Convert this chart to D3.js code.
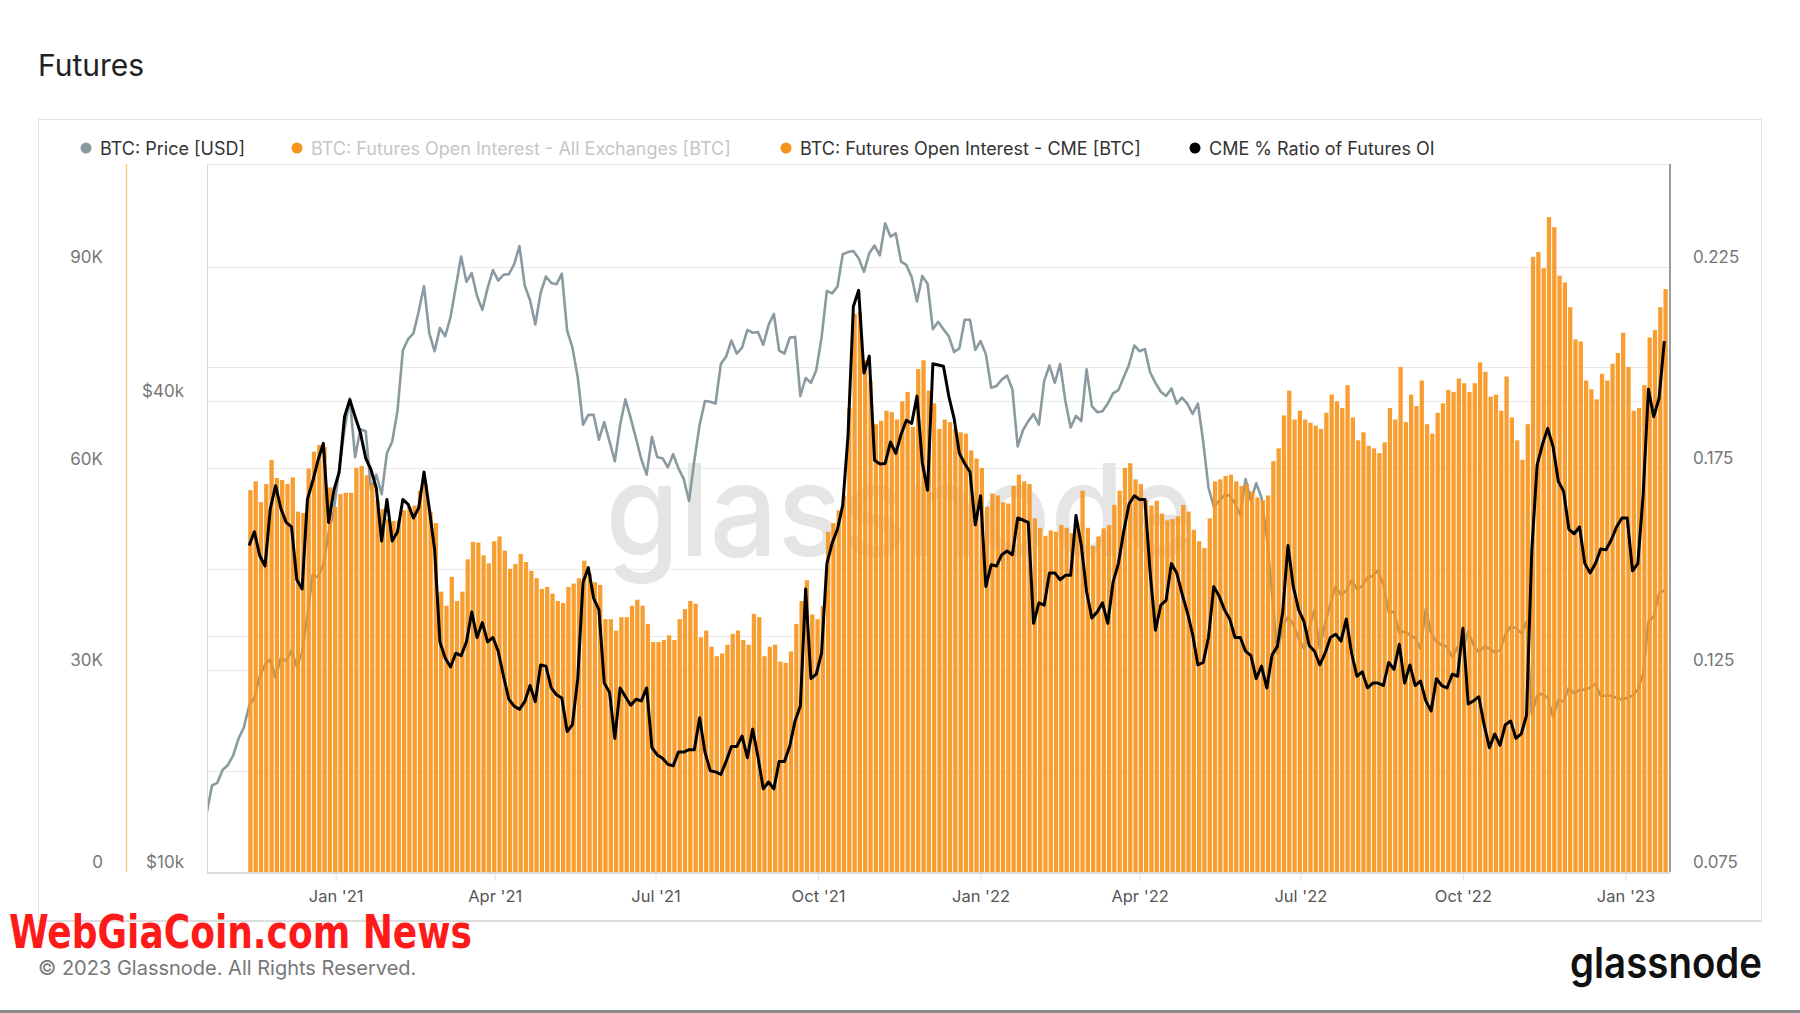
<!DOCTYPE html>
<html>
<head>
<meta charset="utf-8">
<title>Futures</title>
<script src="https://cdnjs.cloudflare.com/ajax/libs/d3/7.8.5/d3.min.js"></script>
<style>
    html, body { margin: 0; padding: 0; background: #fff; }
    #chart-area { width: 1800px; height: 1013px; }
    text { font-family: Inter, "Noto Sans", sans-serif; }
    .axis path.domain { display: none; }
    .y-label text { fill: #777; font-size: 17px; }
    .x-axis text { fill: #555; font-size: 16.5px; }
    .x-axis line { stroke: #e3e3e3; }
    .grid line { stroke: #e9e9e9; stroke-width: 1; shape-rendering: crispEdges; }
</style>
</head>
<body>
<div id="chart-area"></div>
<script>

// one value every 3 days
var priceStart = "2020-10-20";
var cmeStart = "2020-11-13";
var stepDays = 3;

// BTC price, thousands of USD
var btcPriceK = [
    11.9, 12.9, 13.0, 13.5, 13.7, 14.1, 14.8, 15.3, 16.3, 16.7, 17.8, 18.4, 18.7, 17.7, 18.8, 18.6, 19.2, 18.3, 19.1, 21.3,
    24.0, 23.8, 24.7, 27.1, 29.0, 32.8, 36.8, 40.3, 33.9, 36.8, 36.6, 30.8, 32.2, 30.4, 34.3, 35.5, 38.9, 46.4, 48.0, 48.8,
    52.1, 56.1, 48.8, 46.3, 49.6, 48.4, 51.2, 56.0, 61.2, 56.8, 58.3, 54.5, 52.3, 55.8, 58.8, 57.0, 58.0, 58.1, 59.8, 63.1,
    56.2, 53.8, 50.1, 55.0, 57.7, 56.6, 56.4, 58.2, 49.2, 46.8, 42.9, 37.3, 38.4, 38.4, 35.7, 37.6, 35.5, 33.5, 37.3, 40.2,
    38.0, 35.8, 33.7, 32.2, 36.0, 33.9, 33.8, 32.9, 34.2, 32.8, 31.8, 29.8, 33.6, 37.3, 40.0, 39.9, 39.7, 44.6, 45.6, 47.8,
    46.0, 46.8, 49.3, 48.9, 49.0, 47.2, 50.0, 51.7, 46.4, 46.0, 48.2, 48.3, 40.6, 42.8, 42.2, 43.8, 48.2, 55.3, 54.9, 56.0,
    61.6, 62.0, 62.2, 60.9, 58.5, 61.8, 63.2, 61.4, 67.5, 64.9, 65.5, 60.3, 59.7, 57.6, 53.6, 57.8, 56.5, 49.4, 50.5, 49.4,
    48.4, 46.2, 46.7, 50.8, 50.8, 46.5, 47.7, 45.9, 41.6, 41.8, 42.6, 43.1, 41.4, 35.0, 36.7, 37.7, 38.5, 37.3, 42.4, 44.4,
    42.2, 44.6, 40.0, 37.0, 38.3, 37.7, 43.9, 39.4, 38.7, 38.8, 39.7, 40.9, 41.3, 42.9, 44.5, 47.1, 46.3, 46.6, 43.5, 42.2,
    41.1, 40.6, 41.5, 39.7, 40.4, 39.7, 38.5, 39.7, 35.5, 31.0, 29.3, 29.8, 30.3, 30.3, 29.6, 28.6, 31.8, 29.8, 31.4, 30.1,
    26.8, 22.6, 19.0, 20.6, 21.2, 20.7, 19.9, 19.3, 20.5, 21.6, 19.3, 20.8, 22.0, 23.2, 22.6, 22.9, 23.6, 23.0, 23.2, 23.8,
    23.9, 24.3, 23.3, 21.5, 21.5, 20.2, 20.3, 20.1, 19.9, 19.3, 21.7, 20.2, 19.7, 19.5, 19.4, 18.8, 19.4, 19.3, 20.3, 19.5,
    19.1, 19.4, 19.3, 19.1, 19.2, 20.1, 20.6, 20.5, 20.2, 20.9, 15.9, 16.8, 16.9, 16.7, 15.8, 16.6, 16.5, 17.2, 16.9, 17.1,
    17.1, 17.2, 17.4, 16.8, 16.8, 16.8, 16.7, 16.6, 16.7, 16.8, 17.1, 17.9, 20.9, 21.2, 22.7, 22.9
];

// CME futures open interest, thousands of BTC
var cmeOiK = [
    56.8, 58.1, 55.0, 57.7, 61.3, 58.6, 58.3, 57.7, 58.7, 53.6, 53.4, 60.0, 62.5, 63.5, 63.2, 57.2, 54.3, 56.2, 56.4,
    56.4, 60.1, 60.4, 59.0, 57.7, 55.3, 54.0, 52.5, 52.2, 52.3, 53.8, 54.3, 54.5, 56.7, 57.7, 53.6, 51.9, 41.7, 39.6, 43.9,
    40.3, 41.7, 46.5, 49.1, 49.0, 47.1, 45.9, 49.2, 49.9, 47.8, 45.1, 45.8, 47.3, 46.1, 44.8, 43.7, 42.1, 42.4, 41.4, 40.3,
    40.0, 42.4, 42.9, 43.7, 46.3, 44.4, 43.1, 42.7, 37.6, 37.6, 35.9, 37.9, 37.9, 39.6, 40.5, 39.6, 36.9, 34.2, 34.2, 34.5,
    35.2, 34.5, 37.6, 39.1, 40.3, 39.9, 34.9, 35.9, 33.5, 32.1, 32.5, 33.8, 35.4, 35.9, 34.5, 33.8, 38.4, 37.9, 32.1, 33.5,
    33.8, 31.3, 31.1, 32.8, 36.9, 40.3, 43.4, 38.3, 37.6, 39.6, 50.6, 51.9, 53.8, 56.0, 69.0, 83.0, 83.3, 76.1, 73.1, 66.6,
    67.1, 68.6, 68.4, 67.3, 70.0, 71.4, 66.2, 74.8, 76.1, 71.6, 69.7, 65.9, 67.3, 66.9, 65.9, 65.4, 65.2, 62.7, 61.5, 60.1,
    54.3, 56.3, 56.0, 55.0, 54.8, 57.4, 59.1, 58.1, 57.7, 52.6, 51.2, 50.0, 50.8, 50.6, 51.6, 51.2, 50.4, 51.9, 56.7, 51.2,
    48.5, 49.9, 51.1, 51.6, 54.6, 56.7, 60.1, 60.8, 58.4, 57.7, 55.3, 54.5, 55.2, 53.3, 52.3, 52.5, 52.9, 54.6, 53.6, 50.9,
    49.2, 48.2, 52.6, 58.1, 58.4, 58.9, 59.1, 58.1, 57.4, 57.7, 56.6, 55.7, 55.3, 56.0, 61.1, 63.0, 67.9, 71.6, 67.3, 68.6,
    67.3, 66.8, 66.4, 65.9, 68.3, 71.0, 70.0, 69.0, 72.4, 67.6, 64.2, 65.4, 63.4, 63.0, 62.3, 63.9, 69.0, 67.3, 75.1, 66.9,
    71.0, 69.3, 73.1, 66.6, 65.2, 68.3, 69.7, 71.7, 71.4, 73.4, 72.7, 71.4, 72.7, 75.8, 74.4, 70.7, 71.0, 68.6, 73.7, 67.6,
    64.2, 61.3, 66.6, 91.5, 92.2, 89.8, 97.4, 95.9, 88.7, 87.7, 84.0, 79.2, 78.9, 73.1, 71.8, 70.3, 74.1, 73.1, 75.6, 77.2,
    80.2, 75.1, 68.6, 69.0, 72.4, 79.5, 80.6, 84.0, 86.7
];

// CME share of all futures open interest
var cmeRatio = [
    0.1559, 0.1593, 0.1534, 0.1508, 0.1650, 0.1707, 0.1650, 0.1616, 0.1605, 0.1474, 0.1451, 0.1673, 0.1718, 0.1770, 0.1812, 0.1616, 0.1696, 0.1741, 0.1878,
    0.1920, 0.1878, 0.1838, 0.1775, 0.1747, 0.1701, 0.1570, 0.1673, 0.1570, 0.1593, 0.1673, 0.1661, 0.1627, 0.1652, 0.1741, 0.1650, 0.1548, 0.1320, 0.1280, 0.1258,
    0.1292, 0.1286, 0.1320, 0.1394, 0.1331, 0.1368, 0.1320, 0.1331, 0.1297, 0.1235, 0.1178, 0.1161, 0.1153, 0.1172, 0.1212, 0.1172, 0.1263, 0.1260, 0.1206, 0.1189,
    0.1181, 0.1098, 0.1115, 0.1229, 0.1468, 0.1504, 0.1428, 0.1400, 0.1218, 0.1195, 0.1081, 0.1206, 0.1184, 0.1163, 0.1178, 0.1174, 0.1206, 0.1058, 0.1040, 0.1032,
    0.1017, 0.1013, 0.1047, 0.1047, 0.1053, 0.1053, 0.1132, 0.1047, 0.1001, 0.0998, 0.0992, 0.1024, 0.1061, 0.1061, 0.1087, 0.1033, 0.1104, 0.1036, 0.0956, 0.0973,
    0.0956, 0.1024, 0.1024, 0.1062, 0.1124, 0.1161, 0.1451, 0.1229, 0.1240, 0.1292, 0.1514, 0.1565, 0.1599, 0.1659, 0.1832, 0.2151, 0.2191, 0.1986, 0.2028, 0.1770,
    0.1761, 0.1762, 0.1815, 0.1787, 0.1834, 0.1869, 0.1861, 0.1929, 0.1764, 0.1696, 0.2009, 0.2006, 0.2003, 0.1929, 0.1874, 0.1787, 0.1762, 0.1741, 0.1610, 0.1682,
    0.1457, 0.1511, 0.1508, 0.1536, 0.1545, 0.1536, 0.1627, 0.1622, 0.1616, 0.1366, 0.1417, 0.1411, 0.1491, 0.1491, 0.1474, 0.1485, 0.1485, 0.1633, 0.1559, 0.1445,
    0.1379, 0.1394, 0.1417, 0.1366, 0.1468, 0.1514, 0.1593, 0.1661, 0.1682, 0.1673, 0.1673, 0.1491, 0.1349, 0.1411, 0.1423, 0.1514, 0.1491, 0.1440, 0.1394, 0.1339,
    0.1263, 0.1269, 0.1331, 0.1457, 0.1434, 0.1400, 0.1377, 0.1331, 0.1331, 0.1297, 0.1286, 0.1229, 0.1260, 0.1206, 0.1288, 0.1309, 0.1394, 0.1559, 0.1457, 0.1400,
    0.1371, 0.1311, 0.1297, 0.1263, 0.1292, 0.1331, 0.1339, 0.1322, 0.1377, 0.1292, 0.1235, 0.1246, 0.1206, 0.1218, 0.1218, 0.1212, 0.1269, 0.1252, 0.1314, 0.1218,
    0.1263, 0.1212, 0.1223, 0.1174, 0.1149, 0.1229, 0.1212, 0.1206, 0.1240, 0.1235, 0.1354, 0.1166, 0.1174, 0.1184, 0.1115, 0.1058, 0.1092, 0.1064, 0.1115, 0.1124,
    0.1081, 0.1092, 0.1138, 0.1548, 0.1758, 0.1809, 0.1849, 0.1804, 0.1718, 0.1693, 0.1599, 0.1588, 0.1605, 0.1514, 0.1491, 0.1514, 0.1550, 0.1548, 0.1573, 0.1605,
    0.1627, 0.1627, 0.1496, 0.1514, 0.1684, 0.1946, 0.1878, 0.1923, 0.2065
];

var xTickDates = ["2021-01-01", "2021-04-01", "2021-07-01", "2021-10-01", "2022-01-01", "2022-04-01", "2022-07-01", "2022-10-01", "2023-01-01"];
var xTickLabels = ["Jan '21", "Apr '21", "Jul '21", "Oct '21", "Jan '22", "Apr '22", "Jul '22", "Oct '22", "Jan '23"];

var oiTicks = [0, 30, 60, 90];
var oiTickLabels = ["0", "30K", "60K", "90K"];
var priceTicks = [10000, 40000];
var priceTickLabels = ["$10k", "$40k"];
var priceGrid = [20000, 40000];
var ratioTicks = [0.075, 0.125, 0.175, 0.225];
var ratioTickLabels = ["0.075", "0.125", "0.175", "0.225"];
var ratioGrid = [0.1, 0.125, 0.15, 0.175, 0.2, 0.225];

var legendNames = ["BTC: Price [USD]", "BTC: Futures Open Interest - All Exchanges [BTC]", "BTC: Futures Open Interest - CME [BTC]", "CME % Ratio of Futures OI"];
var legendColors = ["#8a9aa1", "#f7931a", "#f7931a", "#000000"];
var legendMuted = [false, true, false, false];


/*
 * FuturesVis - Object constructor function
 * @param _parentElement  -- the HTML element in which to draw the visualization
 */
FuturesVis = function(_parentElement, _priceData, _oiData, _ratioData) {
    this.parentElement = _parentElement;
    this.priceData = _priceData;
    this.oiData = _oiData;
    this.ratioData = _ratioData;

    this.initVis();
};


/*
 * Initialize visualization (static content, scales, frame)
 */
FuturesVis.prototype.initVis = function() {
    var vis = this;

    vis.width = 1800;
    vis.height = 1013;
    vis.plot = { left: 207, right: 1670, top: 164, bottom: 872 };

    vis.svg = d3.select("#" + vis.parentElement).append("svg")
        .attr("width", vis.width)
        .attr("height", vis.height);

    vis.parseDate = d3.utcParse("%Y-%m-%d");

    // Scales
    vis.x = d3.scaleUtc()
        .domain([new Date(Date.UTC(2020, 9, 20, 4)), new Date(Date.UTC(2023, 0, 26, 5))])
        .range([vis.plot.left, vis.plot.right]);

    vis.yOi = d3.scaleLinear()
        .domain([0, 105.3])
        .range([vis.plot.bottom, vis.plot.top]);

    vis.yPrice = d3.scaleLog()
        .domain([10000, 80350])
        .range([vis.plot.bottom, vis.plot.top]);

    vis.yRatio = d3.scaleLinear()
        .domain([0.075, 0.2504])
        .range([vis.plot.bottom, vis.plot.top]);

    //======= Card, title, footer ======//
    vis.svg.append("rect")
        .attr("x", 38.5).attr("y", 119.5)
        .attr("width", 1723).attr("height", 801)
        .attr("fill", "#fff")
        .attr("stroke", "#e4e4e4");

    vis.svg.append("line")
        .attr("x1", 38).attr("x2", 1762)
        .attr("y1", 921).attr("y2", 921)
        .attr("stroke", "#dddddd").attr("stroke-width", 2);

    vis.svg.append("text")
        .attr("x", 38).attr("y", 76)
        .attr("font-size", 30).attr("font-weight", 400)
        .attr("fill", "#222")
        .text("Futures");

    vis.svg.append("text")
        .attr("x", 38).attr("y", 975)
        .attr("font-size", 20)
        .attr("fill", "#777")
        .text("\u00a9 2023 Glassnode. All Rights Reserved.");

    vis.svg.append("text")
        .attr("x", 1762).attr("y", 978)
        .attr("text-anchor", "end")
        .attr("font-size", 43).attr("font-weight", 600)
        .attr("fill", "#111")
        .attr("textLength", 192).attr("lengthAdjust", "spacingAndGlyphs")
        .text("glassnode");

    vis.svg.append("text")
        .attr("x", 9).attr("y", 948)
        .style("font-family", "'DejaVu Sans Condensed', 'Liberation Sans Narrow', sans-serif")
        .attr("font-size", 46).attr("font-weight", 700)
        .attr("fill", "#ff1a1a")
        .attr("textLength", 463).attr("lengthAdjust", "spacingAndGlyphs")
        .text("WebGiaCoin.com News");

    vis.svg.append("rect")
        .attr("x", 0).attr("y", 1010)
        .attr("width", vis.width).attr("height", 3)
        .attr("fill", "#8a8a8a");

    //======= Legend ======//
    var legendX = [86, 297, 786, 1195];
    var legend = vis.svg.append("g").attr("class", "legend")
        .selectAll("g")
        .data(legendNames)
        .enter().append("g")
        .attr("transform", function(d, i) { return "translate(" + legendX[i] + ",148)"; });

    legend.append("circle")
        .attr("r", 5.5)
        .attr("fill", function(d, i) { return legendColors[i]; });

    legend.append("text")
        .attr("x", 14).attr("y", 6.5)
        .attr("font-size", 18)
        .attr("fill", function(d, i) { return legendMuted[i] ? "#c6c6c6" : "#333"; })
        .text(function(d) { return d; });

    //======= Grid ======//
    vis.grid = vis.svg.append("g").attr("class", "grid");

    vis.grid.selectAll(".g-ratio")
        .data(ratioGrid)
        .enter().append("line")
        .attr("class", "g-ratio")
        .attr("x1", vis.plot.left).attr("x2", vis.plot.right)
        .attr("y1", function(d) { return Math.round(vis.yRatio(d)) + 0.5; })
        .attr("y2", function(d) { return Math.round(vis.yRatio(d)) + 0.5; });

    vis.grid.selectAll(".g-price")
        .data(priceGrid)
        .enter().append("line")
        .attr("class", "g-price")
        .attr("x1", vis.plot.left).attr("x2", vis.plot.right)
        .attr("y1", function(d) { return Math.round(vis.yPrice(d)) + 0.5; })
        .attr("y2", function(d) { return Math.round(vis.yPrice(d)) + 0.5; });

    // watermark
    vis.svg.append("text")
        .attr("x", 900).attr("y", 556)
        .attr("text-anchor", "middle")
        .attr("font-size", 128).attr("font-weight", 500)
        .attr("fill", "#e5e5e5")
        .attr("textLength", 589).attr("lengthAdjust", "spacingAndGlyphs")
        .text("glassnode");

    vis.svg.append("clipPath").attr("id", "plot-clip")
        .append("rect")
        .attr("x", vis.plot.left).attr("y", vis.plot.top)
        .attr("width", vis.plot.right - vis.plot.left)
        .attr("height", vis.plot.bottom - vis.plot.top);

    vis.chart = vis.svg.append("g").attr("clip-path", "url(#plot-clip)");

    vis.pricePath = vis.chart.append("path").attr("class", "pricepath");
    vis.barGroup = vis.chart.append("g").attr("class", "bars");
    vis.ratioPath = vis.chart.append("path").attr("class", "ratiopath");

    vis.wrangleData();
};


/*
 * Data wrangling - attach dates to the value arrays
 */
FuturesVis.prototype.wrangleData = function() {
    var vis = this;

    var p0 = vis.parseDate(priceStart);
    var c0 = vis.parseDate(cmeStart);

    vis.priceSeries = vis.priceData.map(function(v, i) {
        return { date: d3.utcDay.offset(p0, i * stepDays), value: v * 1000 };
    });
    vis.oiSeries = vis.oiData.map(function(v, i) {
        return { date: d3.utcDay.offset(c0, i * stepDays), value: v };
    });
    vis.ratioSeries = vis.ratioData.map(function(v, i) {
        return { date: d3.utcDay.offset(c0, i * stepDays), value: v };
    });

    vis.updateVis();
};


/*
 * The drawing function
 */
FuturesVis.prototype.updateVis = function() {
    var vis = this;

    var dayPx = vis.x(d3.utcDay.offset(vis.x.domain()[0], 1)) - vis.x.range()[0];

    //======= Price line ======//
    var priceLine = d3.line()
        .x(function(d) { return vis.x(d.date); })
        .y(function(d) { return vis.yPrice(d.value); });

    vis.pricePath
        .datum(vis.priceSeries)
        .attr("fill", "none")
        .attr("stroke", "#8a9aa1")
        .attr("stroke-width", 2.6)
        .attr("stroke-linejoin", "round")
        .attr("d", priceLine);

    //======= CME open interest bars ======//
    vis.bars = vis.barGroup.selectAll(".bar").data(vis.oiSeries);

    vis.bars.enter().append("rect")
        .attr("class", "bar")
        .merge(vis.bars)
        .attr("x", function(d) { return vis.x(d.date) - 0.5 * dayPx; })
        .attr("width", stepDays * dayPx - 1)
        .attr("y", function(d) { return vis.yOi(d.value); })
        .attr("height", function(d) { return vis.yOi(0) - vis.yOi(d.value); })
        .attr("fill", "#f7931a")
        .attr("fill-opacity", 0.9);

    vis.bars.exit().remove();

    //======= Ratio line ======//
    var ratioLine = d3.line()
        .x(function(d) { return vis.x(d.date); })
        .y(function(d) { return vis.yRatio(d.value); });

    vis.ratioPath
        .datum(vis.ratioSeries)
        .attr("fill", "none")
        .attr("stroke", "#000")
        .attr("stroke-width", 3)
        .attr("stroke-linejoin", "round")
        .attr("d", ratioLine);

    //======= Frame ======//
    var frame = vis.svg.append("g").attr("class", "frame");
    frame.append("line")
        .attr("x1", vis.plot.left + 0.5).attr("x2", vis.plot.left + 0.5)
        .attr("y1", vis.plot.top).attr("y2", vis.plot.bottom)
        .attr("stroke", "#d6d6d6");
    frame.append("line")
        .attr("x1", vis.plot.left).attr("x2", vis.plot.right)
        .attr("y1", vis.plot.top + 0.5).attr("y2", vis.plot.top + 0.5)
        .attr("stroke", "#e4e4e4");
    frame.append("line")
        .attr("x1", vis.plot.right).attr("x2", vis.plot.right)
        .attr("y1", vis.plot.top).attr("y2", vis.plot.bottom)
        .attr("stroke", "#9c9c9c").attr("stroke-width", 2);
    frame.append("line")
        .attr("x1", vis.plot.left).attr("x2", vis.plot.right)
        .attr("y1", vis.plot.bottom + 1).attr("y2", vis.plot.bottom + 1)
        .attr("stroke", "#d9d9d9").attr("stroke-width", 2);

    // orange axis line of the open interest axis
    vis.svg.append("line")
        .attr("x1", 126.5).attr("x2", 126.5)
        .attr("y1", vis.plot.top).attr("y2", vis.plot.bottom)
        .attr("stroke", "#fbc886").attr("stroke-width", 1.5);

    //======= Axes ======//
    vis.xAxis = d3.axisBottom(vis.x)
        .tickValues(xTickDates.map(vis.parseDate))
        .tickFormat(function(d, i) { return xTickLabels[i]; })
        .tickSize(7)
        .tickPadding(9);

    vis.svg.append("g")
        .attr("class", "x-axis axis")
        .attr("transform", "translate(0," + (vis.plot.bottom + 2) + ")")
        .call(vis.xAxis);

    vis.svg.append("g")
        .attr("class", "y-label axis")
        .attr("transform", "translate(103,0)")
        .call(d3.axisLeft(vis.yOi).tickValues(oiTicks).tickSize(0).tickPadding(0)
            .tickFormat(function(d, i) { return oiTickLabels[i]; }))
        .selectAll("text").attr("dy", "-0.26em");

    vis.svg.append("g")
        .attr("class", "y-label axis")
        .attr("transform", "translate(184,0)")
        .call(d3.axisLeft(vis.yPrice).tickValues(priceTicks).tickSize(0).tickPadding(0)
            .tickFormat(function(d, i) { return priceTickLabels[i]; }))
        .selectAll("text").attr("dy", "-0.26em");

    vis.svg.append("g")
        .attr("class", "y-label axis")
        .attr("transform", "translate(1693,0)")
        .call(d3.axisRight(vis.yRatio).tickValues(ratioTicks).tickSize(0).tickPadding(0)
            .tickFormat(function(d, i) { return ratioTickLabels[i]; }))
        .selectAll("text").attr("dy", "-0.26em");

    vis.svg.selectAll(".axis text").attr("font-family", null).style("font-family", "Inter, 'Noto Sans', sans-serif");
};


var futuresVis = new FuturesVis("chart-area", btcPriceK, cmeOiK, cmeRatio);

</script>
</body>
</html>
